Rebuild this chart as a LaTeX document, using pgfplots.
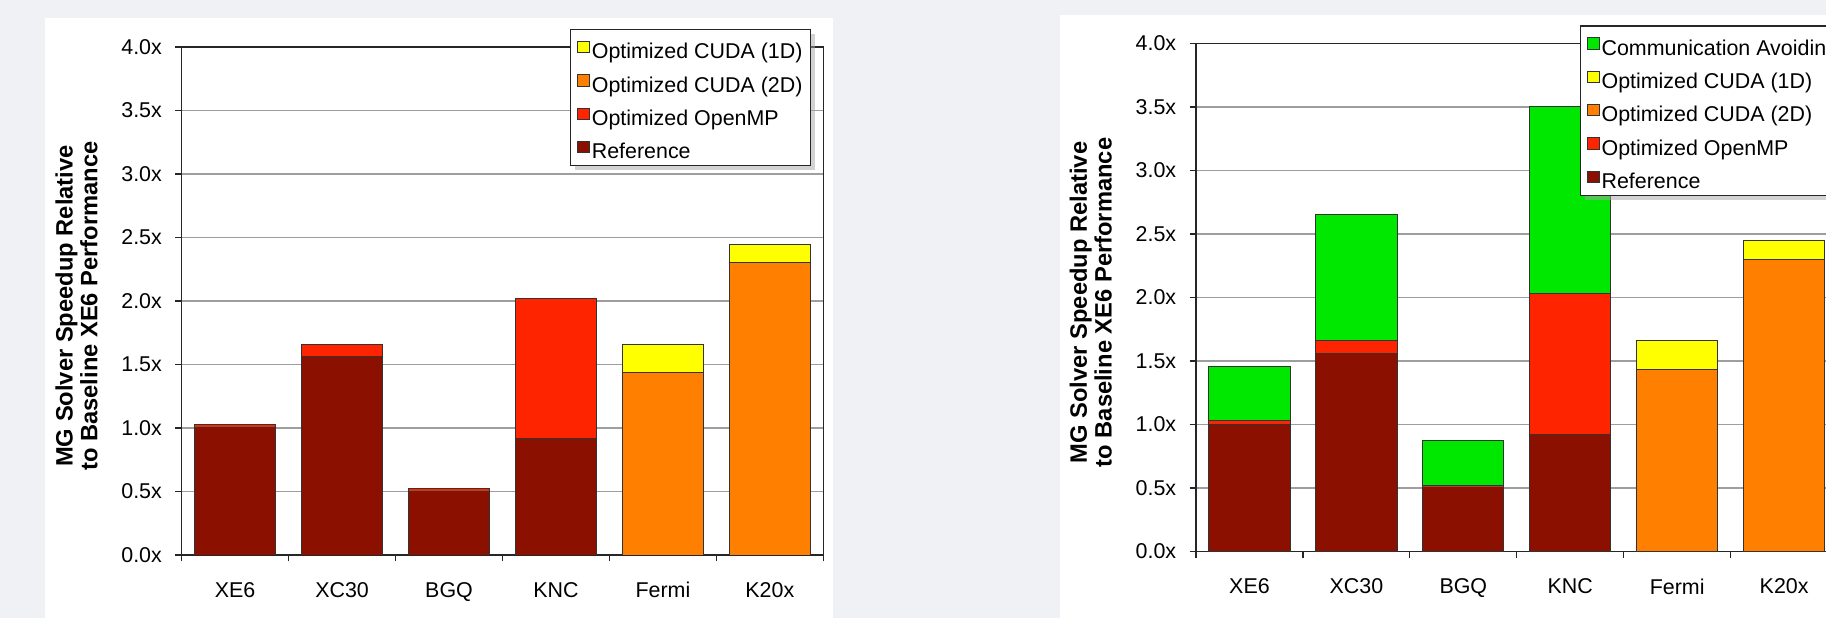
\documentclass[border=0pt]{standalone}
\usepackage{pgfplots}
\pgfplotsset{compat=1.18}
\usepackage{fontspec}
\setmainfont{Liberation Sans}
\usetikzlibrary{shadows}
\makeatletter
\tikzset{nopre/.code={\let\tikz@preactions\pgfutil@empty}}
\makeatother
\definecolor{bg}{RGB}{239,241,244}
\definecolor{cref}{RGB}{140,16,0}
\definecolor{comp}{RGB}{255,36,0}
\definecolor{ctwo}{RGB}{255,127,0}
\definecolor{cone}{RGB}{255,255,0}
\definecolor{cca}{RGB}{0,232,0}
\pgfplotsset{
  mybars/.style={
    scale only axis, width=320.8bp, height=254bp,
    ybar stacked, bar width=0.76,
    xmin=-0.5, xmax=5.5, ymin=0, ymax=4,
    xtick={-0.5,0.5,...,5.5},
    xticklabels={XE6,XC30,BGQ,KNC,Fermi,K20x},
    x tick label as interval,
    ytick={0,0.5,...,4},
    yticklabels={0.0x,0.5x,1.0x,1.5x,2.0x,2.5x,3.0x,3.5x,4.0x},
    tick align=outside, tick pos=left,
    major tick length=3.2bp,
    tick style={black!85, line width=0.6bp},
    ymajorgrids, grid style={black!38, line width=0.6bp},
    axis line style={black!85, line width=0.7bp},
    ticklabel style={font=\fontsize{10.75}{12}\selectfont},
    xticklabel style={yshift=-7bp},
    yticklabel style={xshift=-3.2bp},
    every axis plot/.append style={draw=black!80, line width=0.5bp},
    every axis y label/.style={at={(rel axis cs:0,0.5)}, xshift=-52.6bp, yshift=-2.5bp, rotate=90, anchor=center, align=center, font=\fontsize{11.9}{12.5}\selectfont\bfseries},
    ylabel={MG Solver Speedup Relative\\to Baseline XE6 Performance},
    reverse legend,
    legend style={draw=black!85, line width=0.6bp, fill=white,
      font=\fontsize{10.75}{12}\selectfont, inner xsep=3bp, inner ysep=1bp, row sep=0.7bp,
      nodes={inner sep=1bp, text height=12.5bp, text depth=1.5bp},
      cells={anchor=base west},
      drop shadow={shadow xshift=2bp, shadow yshift=-2bp, fill=black!35}},
    legend image code/.code={\draw[nopre, ##1, line width=0.5bp] (0bp,3bp) rectangle (6bp,8.7bp);},
  }
}
\begin{document}
\begin{tikzpicture}
\useasboundingbox (0,0) rectangle (913bp,309bp);
\clip (0,0) rectangle (913bp,309bp);
\fill[bg] (0,0) rectangle (913bp,309bp);
\fill[white] (22.5bp,0) rectangle (416.5bp,299.85bp);
\fill[white] (530bp,0) rectangle (913bp,301.5bp);
\begin{axis}[mybars, at={(90.85bp,31.5bp)}, anchor=south west,
  legend style={at={(0.981,1.0354)}, anchor=north east}]
\addplot[fill=cref] coordinates {(0,1.00) (1,1.56) (2,0.50) (3,0.92) (4,0) (5,0)};
\addlegendentry{Reference}
\addplot[fill=comp] coordinates {(0,0.03) (1,0.10) (2,0.02) (3,1.10) (4,0) (5,0)};
\addlegendentry{Optimized OpenMP}
\addplot[fill=ctwo] coordinates {(0,0) (1,0) (2,0) (3,0) (4,1.435) (5,2.30)};
\addlegendentry{Optimized CUDA (2D)}
\addplot[fill=cone] coordinates {(0,0) (1,0) (2,0) (3,0) (4,0.225) (5,0.145)};
\addlegendentry{Optimized CUDA (1D)}
\end{axis}
\begin{axis}[mybars, at={(598bp,33.25bp)}, anchor=south west,
  legend style={at={(0.5985,1.0355)}, anchor=north west}]
\addplot[fill=cref] coordinates {(0,1.00) (1,1.56) (2,0.50) (3,0.92) (4,0) (5,0)};
\addlegendentry{Reference}
\addplot[fill=comp] coordinates {(0,0.03) (1,0.10) (2,0.02) (3,1.11) (4,0) (5,0)};
\addlegendentry{Optimized OpenMP}
\addplot[fill=ctwo] coordinates {(0,0) (1,0) (2,0) (3,0) (4,1.435) (5,2.30)};
\addlegendentry{Optimized CUDA (2D)}
\addplot[fill=cone] coordinates {(0,0) (1,0) (2,0) (3,0) (4,0.225) (5,0.145)};
\addlegendentry{Optimized CUDA (1D)}
\addplot[fill=cca] coordinates {(0,0.424) (1,0.994) (2,0.354) (3,1.474) (4,0) (5,0)};
\addlegendentry{Communication Avoiding}
\end{axis}
\end{tikzpicture}
\end{document}
